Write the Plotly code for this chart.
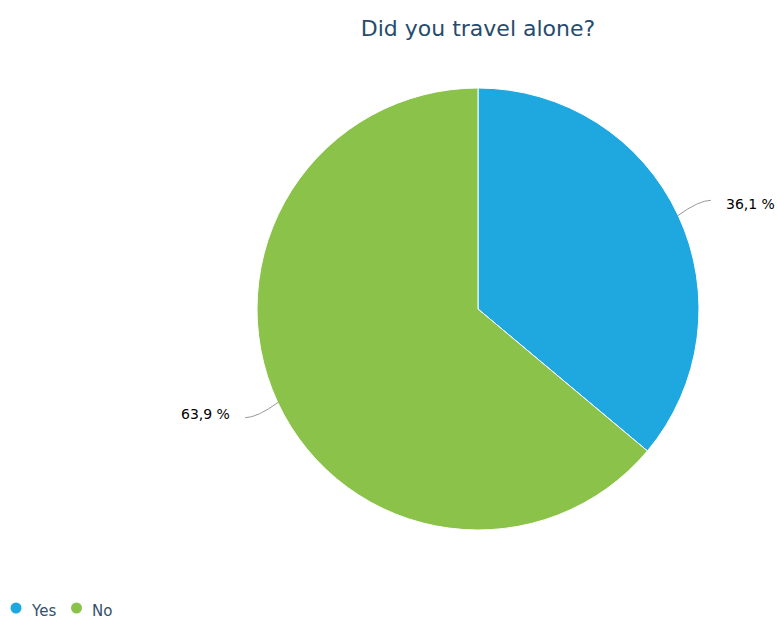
import math
import plotly.graph_objects as go

categories = ["Yes", "No"]
values = [36.1, 63.9]
colors = ["#1FA8E0", "#8BC34A"]
label_texts = ["36,1 %", "63,9 %"]
title_text = "Did you travel alone?"

W, H = 777, 621
cx, cy, R = 478, 309, 221


def px(x, y):
    return x / W, 1 - y / H


fig = go.Figure()
fig.add_trace(go.Pie(
    labels=categories, values=values, sort=False, direction="clockwise", rotation=0,
    marker=dict(colors=colors, line=dict(color="white", width=1)),
    textinfo="none", hoverinfo="label+percent", showlegend=False,
    domain=dict(x=[(cx - R) / W, (cx + R) / W], y=[(H - cy - R) / H, (H - cy + R) / H]),
))

total = sum(values)
cum = 0
shapes = []
annotations = []
for v, txt in zip(values, label_texts):
    mid = (cum + v / 2) / total * 2 * math.pi
    cum += v
    s, c = math.sin(mid), math.cos(mid)
    side = 1 if s >= 0 else -1
    x0, y0 = cx + (R - 1) * s, cy - (R - 1) * c
    x1, y1 = cx + (R + 36) * s, cy - (R + 36) * c
    qx, qy = x1 - side * 12, y1
    a0, b0 = px(x0, y0)
    a1, b1 = px(x1, y1)
    qa, qb = px(qx, qy)
    shapes.append(dict(type="path", xref="paper", yref="paper",
                       path=f"M {a0},{b0} Q {qa},{qb} {a1},{b1}",
                       line=dict(color="#999999", width=1)))
    la, lb = px(x1 + side * 13, y1 + side * 4)
    annotations.append(dict(x=la, y=lb, xref="paper", yref="paper",
                            text=txt, showarrow=False,
                            xanchor="left" if side > 0 else "right", yanchor="middle",
                            font=dict(family="DejaVu Sans", size=14, color="#000000")))

# legend drawn as circles + text
leg_x = 16
leg_y = 608
for cat, col in zip(categories, colors):
    ca, cb = px(leg_x - 5.5, leg_y + 5.5)
    cc, cd = px(leg_x + 5.5, leg_y - 5.5)
    shapes.append(dict(type="circle", xref="paper", yref="paper", x0=ca, y0=cb, x1=cc, y1=cd,
                       fillcolor=col, line=dict(width=0)))
    ta, tb = px(leg_x + 13, leg_y + 3)
    annotations.append(dict(x=ta, y=tb, xref="paper", yref="paper", text=cat, showarrow=False,
                            xanchor="left", yanchor="middle",
                            font=dict(family="DejaVu Sans", size=15, color="#34506B")))
    leg_x += 13 + 8.5 * len(cat) + 22

fig.update_layout(
    width=W, height=H,
    margin=dict(l=0, r=0, t=0, b=0, autoexpand=False),
    paper_bgcolor="white", plot_bgcolor="white",
    showlegend=False,
    title=dict(text=title_text, x=478 / W, xanchor="center", y=1 - 28 / H, yanchor="middle",
               yref="container", xref="container",
               font=dict(family="DejaVu Sans", size=22, color="#274B6D")),
    shapes=shapes, annotations=annotations,
)

fig.write_html("out.html", config={"displayModeBar": False},
               post_script="document.body.style.margin='0px';")
